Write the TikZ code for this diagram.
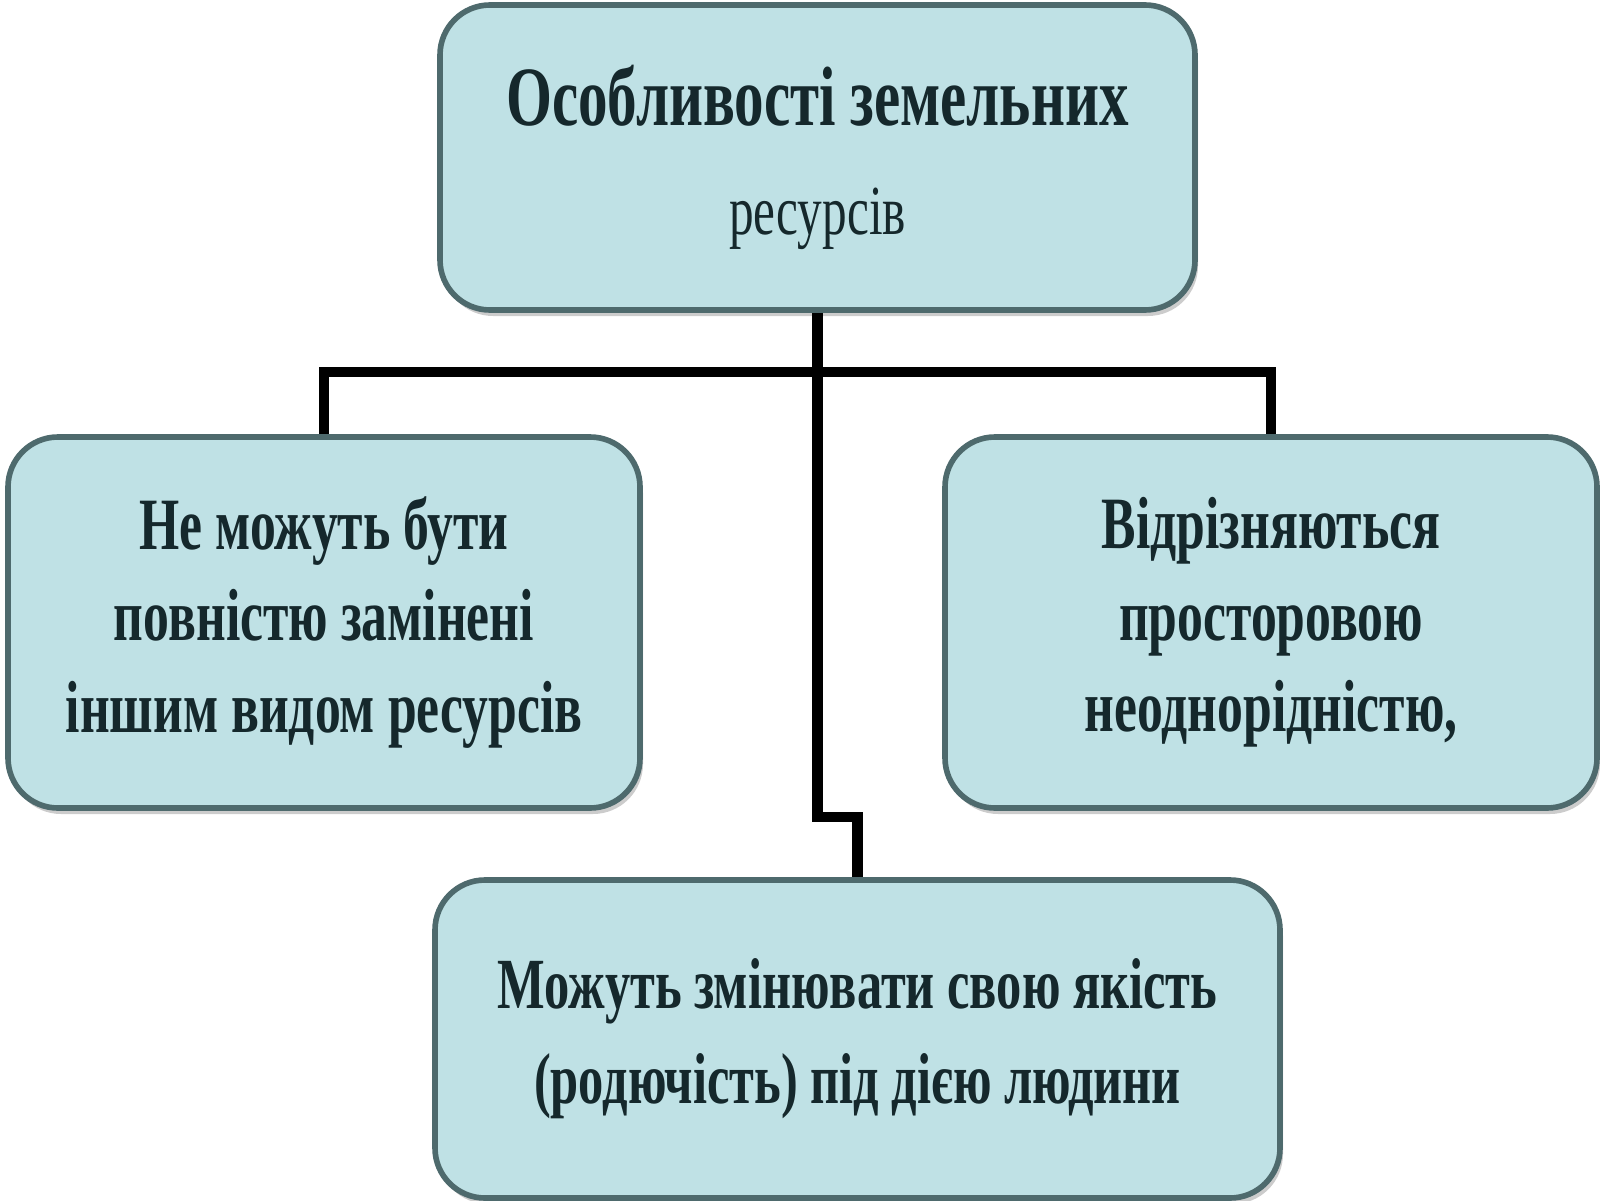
\documentclass[tikz,border=0pt]{standalone}
\usepackage{fontspec}
\setmainfont{Liberation Serif}[FakeStretch=0.7]
\usetikzlibrary{shadows}
\definecolor{boxfill}{HTML}{BFE1E5}
\definecolor{boxline}{HTML}{4E6A6D}
\definecolor{boxtext}{HTML}{15282C}

\begin{document}
\begin{tikzpicture}[
    featbox/.style={draw=boxline, line width=1.6pt, fill=boxfill, rounded corners=0.5cm,
        text=boxtext, align=center, font=\fontsize{21}{26}\bfseries\selectfont,
        drop shadow={shadow xshift=0.3mm, shadow yshift=-0.6mm, opacity=0.4}},
    link/.style={line width=2.9pt, black}
]
    \useasboundingbox (0,0) rectangle (16,12);

    \node[featbox, minimum width=7.55cm, minimum height=3.05cm, font=\fontsize{24}{31}\bfseries\selectfont] (Main) at (8.175,10.425) {Особливості земельних\\{\fontsize{20}{31}\mdseries\selectfont ресурсів}};
    \node[featbox, minimum width=6.32cm, minimum height=3.71cm] (Left) at (3.24,5.775) {Не можуть бути\\повністю замінені\\іншим видом ресурсів};
    \node[featbox, minimum width=6.52cm, minimum height=3.71cm] (Right) at (12.71,5.775) {Відрізняються\\просторовою\\неоднорідністю,};
    \node[featbox, minimum width=8.45cm, minimum height=3.18cm, font=\fontsize{20.5}{27}\bfseries\selectfont] (Bottom) at (8.575,1.61) {Можуть змінювати свою якість\\(родючість) під дією людини};

    \draw[link] (Left.north) -- ++(0,0.62) -| (Right.north);
    \draw[link] (Main.south) |- ([yshift=0.6cm]Bottom.north) -- (Bottom.north);
\end{tikzpicture}
\end{document}
